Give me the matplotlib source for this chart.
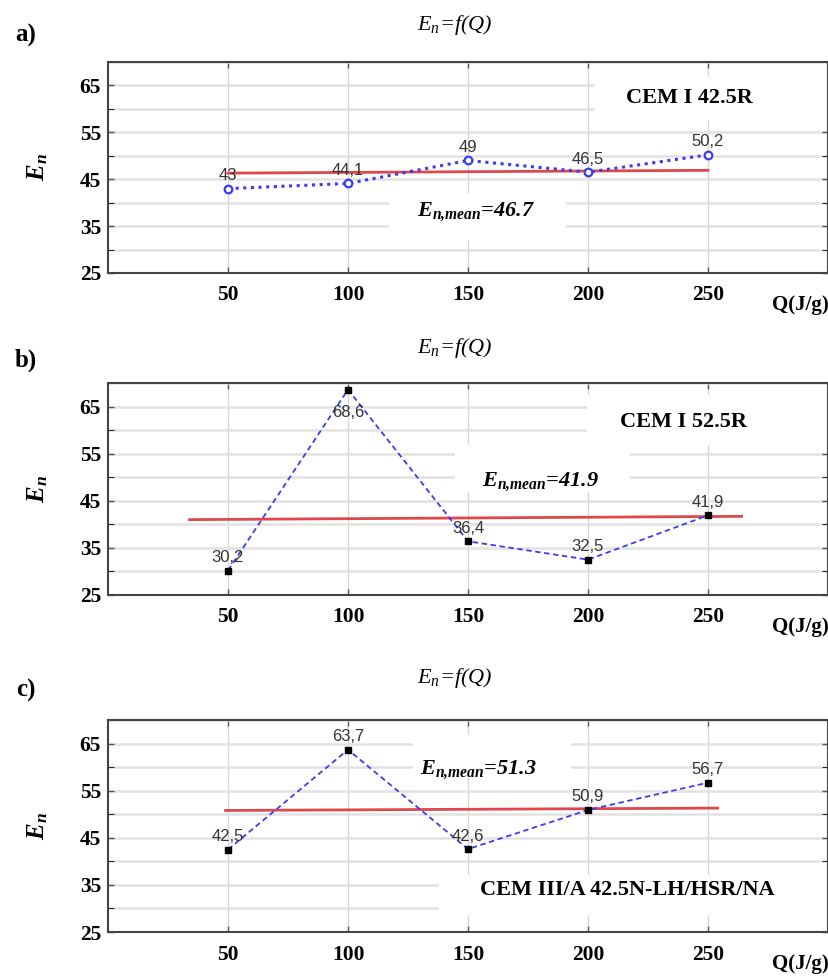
import matplotlib
matplotlib.use('Agg')
import matplotlib.pyplot as plt
from matplotlib.patches import Rectangle

plt.rcParams['font.family'] = ['Liberation Serif', 'DejaVu Serif']
plt.rcParams['mathtext.fontset'] = 'custom'
plt.rcParams['mathtext.rm'] = 'Liberation Serif'
plt.rcParams['mathtext.it'] = 'Liberation Serif:italic'
plt.rcParams['mathtext.bf'] = 'Liberation Serif:bold:italic'

# data
Q = [50, 100, 150, 200, 250]
En_a = [43, 44.1, 49, 46.5, 50.2]
En_b = [30.2, 68.6, 36.4, 32.5, 41.9]
En_c = [42.5, 63.7, 42.6, 50.9, 56.7]

# red mean lines (ends)
mean_a_x, mean_a_y = [50, 250], [46.3, 46.9]
mean_b_x, mean_b_y = [34, 264], [41.0, 41.7]
mean_c_x, mean_c_y = [49, 254], [50.8, 51.3]

mean_vals = ['46.7', '41.9', '51.3']
cements = ['CEM I 42.5R', 'CEM I 52.5R', 'CEM III/A 42.5N-LH/HSR/NA']
panel_tags = ['a)', 'b)', 'c)']

W, H = 829, 976
fig = plt.figure(figsize=(W / 100, H / 100), dpi=100)

# axes boxes in pixels: (top, bottom)
boxes = [(62, 273), (383, 595), (720, 932)]
left, right = 108, 828
titles_y = [25, 348, 678]
tags_y = [35, 360, 690]

blue = '#3b3bf0'
red = '#e0474c'


def fmt(v):
    return f'{v:g}'.replace('.', ',')


def panel(k, y, mx, my, marker, ls, lw, lab_off, cem_pos, mean_pos, white_boxes):
    top, bot = boxes[k]
    ax = fig.add_axes([left / W, 1 - bot / H, (right - left) / W, (bot - top) / H])
    ax.set_xlim(0, 300)
    ax.set_ylim(25, 70)
    ax.set_xticks(Q)
    ax.set_yticks([25, 35, 45, 55, 65])
    ax.set_yticks([30, 40, 50, 60, 70], minor=True)
    ax.set_axisbelow(True)
    ax.grid(axis='y', which='both', color='#e2e2e2', lw=1.8)
    ax.grid(axis='x', color='#d6d6d6', lw=0.9)
    ax.tick_params(direction='in', length=4, width=1, top=True, right=True,
                   labelsize=15.5, color='#555')
    ax.tick_params(axis='y', which='minor', direction='in', length=4, right=True)
    ax.tick_params(axis='x', pad=9)
    ax.tick_params(axis='y', pad=5)
    for t in ax.get_xticklabels() + ax.get_yticklabels():
        t.set_fontweight('bold')
    for s in ax.spines.values():
        s.set_color('#444')
        s.set_linewidth(1.5)

    for (x0, y0, x1, y1) in white_boxes:
        ax.add_patch(Rectangle((x0, y0), x1 - x0, y1 - y0, transform=ax.transAxes,
                               facecolor='white', edgecolor='none', zorder=1))

    ax.plot(mx, my, color=red, lw=2, zorder=3)
    if marker == 'o':
        ax.plot(Q, y, ls=ls, lw=lw, color=blue, marker='o', ms=5.5,
                mfc='white', mec=blue, mew=1.6, zorder=4)
    else:
        ax.plot(Q, y, ls=ls, lw=lw, color=blue, zorder=4)
        ax.plot(Q, y, ls='none', marker='s', ms=5, color='black', zorder=5)

    for xi, yi, off in zip(Q, y, lab_off):
        ax.annotate(fmt(yi), (xi, yi), xytext=(0, off), textcoords='offset points',
                    ha='center', va='bottom' if off > 0 else 'top',
                    fontsize=12, color='#333', family='Liberation Sans', zorder=6)

    ax.text(cem_pos[0], cem_pos[1], cements[k], transform=ax.transAxes,
            ha='center', va='center', fontsize=16, fontweight='bold', zorder=6)
    ax.text(mean_pos[0], mean_pos[1], r'$\mathbf{E_{n{,}mean}}$=' + mean_vals[k],
            transform=ax.transAxes, ha='center', va='center', fontsize=16,
            fontweight='bold', style='italic', zorder=6)

    ax.set_ylabel(r'$\mathbf{E_n}$', fontsize=18)
    ax.yaxis.set_label_coords(-(left - 50) / (right - left), 0.5)

    fig.text(1.0, 1 - (bot + 32) / H, 'Q(J/g)', ha='right', va='center',
             fontsize=15, fontweight='bold')
    fig.text(455 / W, 1 - titles_y[k] / H, r'$E_n$=f(Q)', ha='center', va='center',
             fontsize=16, style='italic')
    fig.text(26 / W, 1 - tags_y[k] / H, panel_tags[k], ha='center', va='center',
             fontsize=18, fontweight='bold')
    return ax


panel(0, En_a, mean_a_x, mean_a_y, 'o', (0, (1, 1.5)), 2.2,
      [4, 4, 4, 4, 4], (0.808, 0.829), (0.511, 0.289),
      [(0.676, 0.725, 1.0, 0.93), (0.39, 0.156, 0.636, 0.379)])
panel(1, En_b, mean_b_x, mean_b_y, 's', (0, (3, 2)), 1.3,
      [4, -11, 4, 4, 4], (0.799, 0.816), (0.6, 0.533),
      [(0.665, 0.708, 1.0, 0.943), (0.482, 0.486, 0.725, 0.708)])
panel(2, En_c, mean_c_x, mean_c_y, 's', (0, (3, 2)), 1.3,
      [4, 4, 4, 4, 4], (0.721, 0.198), (0.515, 0.764),
      [(0.424, 0.726, 0.643, 0.929), (0.46, 0.08, 1.0, 0.269)])

fig.savefig('out.png', dpi=100)
